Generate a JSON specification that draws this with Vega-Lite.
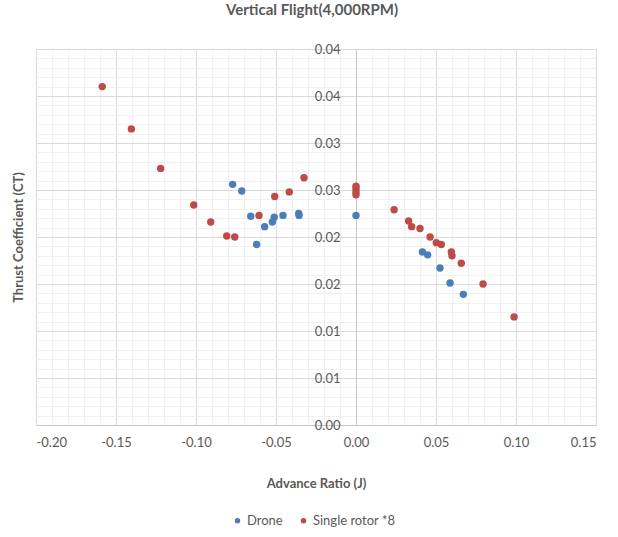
{
  "$schema": "https://vega.github.io/schema/vega-lite/v6.json",
  "autosize": "none",
  "width": 560,
  "height": 376,
  "padding": {"left": 36, "top": 49, "right": 22, "bottom": 112},
  "background": "white",
  "config": {
    "font": "Lato",
    "view": {"stroke": null}
  },
  "title": {
    "text": "Vertical Flight(4,000RPM)",
    "fontSize": 15,
    "fontWeight": "bold",
    "color": "#595959",
    "offset": 25,
    "dx": -4
  },
  "data": {
    "values": [
      {"series": "Single rotor *8", "J": -0.1586, "CT": 0.0360},
      {"series": "Single rotor *8", "J": -0.1404, "CT": 0.0315},
      {"series": "Single rotor *8", "J": -0.1221, "CT": 0.0273},
      {"series": "Single rotor *8", "J": -0.1014, "CT": 0.0234},
      {"series": "Single rotor *8", "J": -0.0908, "CT": 0.0216},
      {"series": "Single rotor *8", "J": -0.0808, "CT": 0.0201},
      {"series": "Single rotor *8", "J": -0.0758, "CT": 0.0200},
      {"series": "Single rotor *8", "J": -0.0606, "CT": 0.0223},
      {"series": "Single rotor *8", "J": -0.0508, "CT": 0.0243},
      {"series": "Single rotor *8", "J": -0.0417, "CT": 0.0248},
      {"series": "Single rotor *8", "J": -0.0325, "CT": 0.0263},
      {"series": "Single rotor *8", "J": 0.0, "CT": 0.0254},
      {"series": "Single rotor *8", "J": 0.0, "CT": 0.0251},
      {"series": "Single rotor *8", "J": 0.0, "CT": 0.0248},
      {"series": "Single rotor *8", "J": 0.0, "CT": 0.0245},
      {"series": "Single rotor *8", "J": 0.0238, "CT": 0.0229},
      {"series": "Single rotor *8", "J": 0.0329, "CT": 0.0217},
      {"series": "Single rotor *8", "J": 0.0348, "CT": 0.0211},
      {"series": "Single rotor *8", "J": 0.0400, "CT": 0.0209},
      {"series": "Single rotor *8", "J": 0.0463, "CT": 0.0200},
      {"series": "Single rotor *8", "J": 0.0502, "CT": 0.0194},
      {"series": "Single rotor *8", "J": 0.0533, "CT": 0.0192},
      {"series": "Single rotor *8", "J": 0.0596, "CT": 0.0184},
      {"series": "Single rotor *8", "J": 0.0600, "CT": 0.0180},
      {"series": "Single rotor *8", "J": 0.0658, "CT": 0.0172},
      {"series": "Single rotor *8", "J": 0.0794, "CT": 0.0150},
      {"series": "Single rotor *8", "J": 0.0988, "CT": 0.0115},
      {"series": "Drone", "J": -0.0771, "CT": 0.0256},
      {"series": "Drone", "J": -0.0714, "CT": 0.0249},
      {"series": "Drone", "J": -0.0658, "CT": 0.0222},
      {"series": "Drone", "J": -0.0621, "CT": 0.0192},
      {"series": "Drone", "J": -0.0571, "CT": 0.0211},
      {"series": "Drone", "J": -0.0523, "CT": 0.0216},
      {"series": "Drone", "J": -0.0511, "CT": 0.0221},
      {"series": "Drone", "J": -0.0456, "CT": 0.0223},
      {"series": "Drone", "J": -0.0358, "CT": 0.0225},
      {"series": "Drone", "J": -0.0356, "CT": 0.0223},
      {"series": "Drone", "J": 0.0, "CT": 0.0223},
      {"series": "Drone", "J": 0.0415, "CT": 0.0184},
      {"series": "Drone", "J": 0.0448, "CT": 0.0181},
      {"series": "Drone", "J": 0.0525, "CT": 0.0167},
      {"series": "Drone", "J": 0.0588, "CT": 0.0151},
      {"series": "Drone", "J": 0.0671, "CT": 0.0139}
    ]
  },
  "resolve": {"axis": {"x": "independent", "y": "independent"}},
  "layer": [
    {
      "mark": {"type": "point", "opacity": 0},
      "encoding": {
        "x": {
          "field": "J", "type": "quantitative",
          "scale": {"domain": [-0.2, 0.15], "nice": false, "zero": false},
          "axis": {
            "orient": "top", "title": null, "labels": false, "ticks": false, "domain": false,
            "grid": true, "gridColor": "#f0f0f0", "gridWidth": 1,
            "values": [-0.19,-0.18,-0.17,-0.16,-0.14,-0.13,-0.12,-0.11,-0.09,-0.08,-0.07,-0.06,-0.04,-0.03,-0.02,-0.01,0.01,0.02,0.03,0.04,0.06,0.07,0.08,0.09,0.11,0.12,0.13,0.14]
          }
        },
        "y": {
          "field": "CT", "type": "quantitative",
          "scale": {"domain": [0, 0.04], "nice": false},
          "axis": {
            "orient": "right", "title": null, "labels": false, "ticks": false, "domain": false,
            "grid": true, "gridColor": "#f0f0f0", "gridWidth": 1,
            "values": [0.001,0.002,0.003,0.004,0.006,0.007,0.008,0.009,0.011,0.012,0.013,0.014,0.016,0.017,0.018,0.019,0.021,0.022,0.023,0.024,0.026,0.027,0.028,0.029,0.031,0.032,0.033,0.034,0.036,0.037,0.038,0.039]
          }
        }
      }
    },
    {
      "mark": {"type": "circle", "size": 55, "opacity": 1},
      "encoding": {
        "x": {
          "field": "J", "type": "quantitative",
          "scale": {"domain": [-0.2, 0.15], "nice": false, "zero": false},
          "axis": {
            "orient": "bottom",
            "title": "Advance Ratio (J)",
            "titleFontSize": 13, "titleFontWeight": "bold", "titleColor": "#595959",
            "titlePadding": 28,
            "values": [-0.2,-0.15,-0.1,-0.05,0,0.05,0.1,0.15],
            "labelExpr": "replace(format(datum.value, '.2f'), '\u2212', '-')",
            "labelFontSize": 13, "labelColor": "#595959", "labelPadding": 11,
            "ticks": false,
            "domain": true, "domainColor": "#c8c8c8",
            "grid": true, "gridColor": "#d9d9d9"
          }
        },
        "y": {
          "field": "CT", "type": "quantitative",
          "scale": {"domain": [0, 0.04], "nice": false},
          "axis": {
            "orient": "left",
            "offset": -320,
            "title": "Thrust Coefficient (CT)",
            "titleFontSize": 13, "titleFontWeight": "bold", "titleColor": "#595959",
            "titleX": -338, "titleY": 188, "titleAngle": -90, "titleAlign": "center", "titleBaseline": "middle",
            "values": [0,0.005,0.01,0.015,0.02,0.025,0.03,0.035,0.04],
            "labelExpr": "format(datum.value + 1e-9, '.2f')",
            "labelFontSize": 13, "labelColor": "#595959", "labelPadding": 16,
            "ticks": false,
            "domain": true, "domainColor": "#c8c8c8",
            "grid": true, "gridColor": "#d9d9d9"
          }
        },
        "color": {
          "field": "series", "type": "nominal",
          "scale": {"domain": ["Drone", "Single rotor *8"], "range": ["#4a7ebb", "#be4b48"]},
          "legend": {
            "title": null,
            "orient": "none",
            "legendX": 195,
            "legendY": 465,
            "direction": "horizontal",
            "symbolType": "circle",
            "symbolSize": 30,
            "labelFontSize": 13,
            "labelColor": "#595959",
            "columnPadding": 14,
            "labelOffset": 3
          }
        }
      }
    }
  ]
}
